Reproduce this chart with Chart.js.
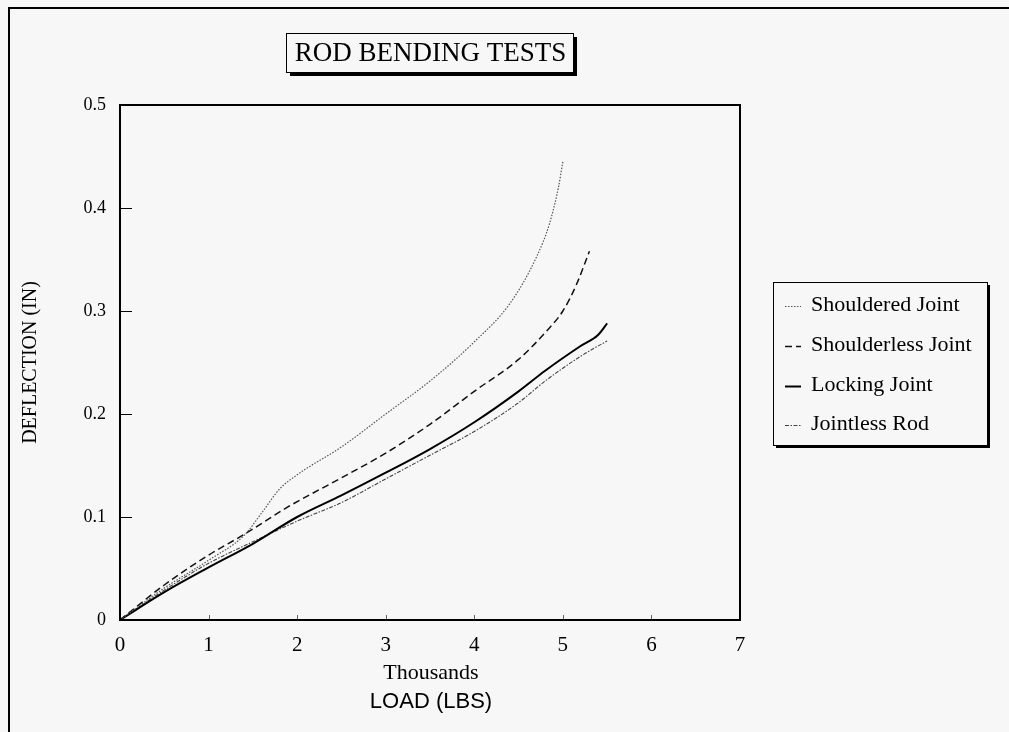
<!DOCTYPE html>
<html>
<head>
<meta charset="utf-8">
<script src="https://cdn.jsdelivr.net/npm/chart.js@4"></script>
<style>
html,body{margin:0;padding:0;background:#f7f7f7;}
#wrap{position:relative;width:1009px;height:732px;}
</style>
</head>
<body>
<div id="wrap"><canvas id="c" width="1009" height="732"></canvas></div>
<script>
// ---- data (load in thousands of lbs, deflection in inches) ----
const xTicks = [0, 1, 2, 3, 4, 5, 6, 7];
const yTicks = [0, 0.1, 0.2, 0.3, 0.4, 0.5];
const seriesNames = ["Shouldered Joint", "Shoulderless Joint", "Locking Joint", "Jointless Rod"];

const shoulderedLoad = [0, 0.5, 1.0, 1.4, 1.6, 1.8, 2.0, 2.5, 3.0, 3.5, 4.0, 4.4, 4.7, 4.85, 4.95, 5.0];
const shoulderedDefl = [0, 0.031, 0.058, 0.082, 0.104, 0.127, 0.141, 0.168, 0.200, 0.232, 0.270, 0.307, 0.352, 0.385, 0.420, 0.445];

const shoulderlessLoad = [0, 0.5, 1.0, 1.4, 1.9, 2.5, 3.0, 3.5, 4.0, 4.5, 4.8, 5.0, 5.15, 5.3];
const shoulderlessDefl = [0, 0.034, 0.063, 0.083, 0.110, 0.138, 0.162, 0.190, 0.222, 0.253, 0.279, 0.300, 0.325, 0.358];

const lockingLoad = [0, 0.5, 1.0, 1.5, 2.0, 2.5, 3.0, 3.5, 4.0, 4.5, 4.8, 5.2, 5.4, 5.5];
const lockingDefl = [0, 0.027, 0.051, 0.074, 0.100, 0.121, 0.143, 0.166, 0.192, 0.222, 0.242, 0.266, 0.277, 0.288];

const jointlessLoad = [0, 0.5, 1.0, 1.5, 2.0, 2.5, 3.0, 3.5, 4.0, 4.5, 4.8, 5.2, 5.5];
const jointlessDefl = [0, 0.029, 0.055, 0.076, 0.096, 0.114, 0.137, 0.160, 0.183, 0.211, 0.232, 0.256, 0.271];

function pts(xs, ys){ return xs.map((x,i)=>({x:x, y:ys[i]})); }

const styles = [
  {color:'#555', width:1.2, dash:[1.5,1.5]},
  {color:'#111', width:1.5, dash:[7,4]},
  {color:'#000', width:2, dash:[]},
  {color:'#444', width:1.1, dash:[4,1.5,1.5,1.5]}
];
const seriesData = [
  pts(shoulderedLoad, shoulderedDefl),
  pts(shoulderlessLoad, shoulderlessDefl),
  pts(lockingLoad, lockingDefl),
  pts(jointlessLoad, jointlessDefl)
];

const SERIF = '"Liberation Serif","Times New Roman",serif';
const SANS = '"Liberation Sans",Arial,sans-serif';

const decorPlugin = {
  id:'decor',
  beforeDraw(chart){
    const ctx = chart.ctx;
    ctx.save();
    ctx.fillStyle = '#f7f7f7';
    ctx.fillRect(0,0,chart.width,chart.height);
    // outer frame (top & left)
    ctx.strokeStyle = '#000';
    ctx.lineWidth = 2;
    ctx.beginPath();
    ctx.moveTo(9, 732); ctx.lineTo(9, 8); ctx.lineTo(1009, 8);
    ctx.stroke();
    ctx.restore();
  },
  afterDraw(chart){
    const ctx = chart.ctx;
    const a = chart.chartArea;
    const xs = chart.scales.x, ys = chart.scales.y;
    ctx.save();
    // plot frame
    ctx.strokeStyle = '#000';
    ctx.lineWidth = 2;
    ctx.strokeRect(a.left, a.top, a.right - a.left, a.bottom - a.top);
    // inward y ticks
    ctx.lineWidth = 1;
    yTicks.forEach(v => {
      if (v === 0 || v === 0.5) return;
      const y = Math.round(ys.getPixelForValue(v)) + 0.5;
      ctx.beginPath(); ctx.moveTo(a.left, y); ctx.lineTo(a.left + 12, y); ctx.stroke();
    });
    // small inward x ticks
    ctx.strokeStyle = '#666';
    xTicks.forEach(v => {
      if (v === 0 || v === 7) return;
      const x = Math.round(xs.getPixelForValue(v)) + 0.5;
      ctx.beginPath(); ctx.moveTo(x, a.bottom - 1); ctx.lineTo(x, a.bottom - 5); ctx.stroke();
    });
    // x axis titles
    ctx.fillStyle = '#000';
    ctx.textAlign = 'center';
    ctx.textBaseline = 'middle';
    const cx = (a.left + a.right) / 2 + 1;
    ctx.font = '22px ' + SERIF;
    ctx.fillText('Thousands', cx, 673);
    ctx.font = '22px ' + SANS;
    ctx.fillText('LOAD (LBS)', cx, 702);

    // title box with shadow
    const tb = {l:286, t:33, r:573, b:72};
    ctx.fillStyle = '#000';
    ctx.fillRect(tb.l + 4, tb.t + 4, tb.r - tb.l, tb.b - tb.t);
    ctx.fillStyle = '#f7f7f7';
    ctx.fillRect(tb.l, tb.t, tb.r - tb.l, tb.b - tb.t);
    ctx.lineWidth = 1;
    ctx.strokeStyle = '#000';
    ctx.strokeRect(tb.l + 0.5, tb.t + 0.5, tb.r - tb.l, tb.b - tb.t);
    ctx.fillStyle = '#000';
    ctx.font = '27px ' + SERIF;
    ctx.fillText('ROD BENDING TESTS', (tb.l + tb.r) / 2 + 1, 54);

    // legend box with shadow
    const lb = {l:773, t:282, r:987, b:445};
    ctx.fillStyle = '#000';
    ctx.fillRect(lb.l + 3, lb.t + 3, lb.r - lb.l, lb.b - lb.t);
    ctx.fillStyle = '#f7f7f7';
    ctx.fillRect(lb.l, lb.t, lb.r - lb.l, lb.b - lb.t);
    ctx.strokeRect(lb.l + 0.5, lb.t + 0.5, lb.r - lb.l, lb.b - lb.t);
    const rowsY = [305, 345, 385, 424];
    chart.data.datasets.forEach((ds, i) => {
      const y = rowsY[i];
      ctx.save();
      ctx.strokeStyle = ds.borderColor;
      ctx.lineWidth = ds.borderWidth;
      ctx.setLineDash(ds.borderDash || []);
      ctx.beginPath(); ctx.moveTo(785, y + 1.5); ctx.lineTo(801, y + 1.5); ctx.stroke();
      ctx.restore();
      ctx.fillStyle = '#000';
      ctx.textAlign = 'left';
      ctx.font = '22px ' + SERIF;
      ctx.fillText(ds.label, 811, y);
    });
    ctx.restore();
  }
};

new Chart(document.getElementById('c'), {
  type: 'scatter',
  data: {
    datasets: seriesNames.map((name, i) => ({
      label: name,
      data: seriesData[i],
      showLine: true,
      borderColor: styles[i].color,
      borderWidth: styles[i].width,
      borderDash: styles[i].dash,
      pointRadius: 0,
      cubicInterpolationMode: 'monotone',
      fill: false
    }))
  },
  options: {
    responsive: false,
    animation: false,
    layout: {padding: {left: 0, top: 105, right: 269, bottom: 0}},
    plugins: {legend: {display: false}, tooltip: {enabled: false}, title: {display: false}},
    scales: {
      x: {
        type: 'linear', min: 0, max: 7,
        afterBuildTicks: s => { s.ticks = xTicks.map(v => ({value: v})); },
        afterFit: s => { s.height = 112; },
        grid: {display: false, drawTicks: false},
        border: {display: false},
        ticks: {color: '#000', font: {family: SERIF, size: 21}, padding: 13,
                callback: v => String(v)}
      },
      y: {
        type: 'linear', min: 0, max: 0.5,
        afterBuildTicks: s => { s.ticks = yTicks.map(v => ({value: v})); },
        afterFit: s => { s.width = 120; },
        grid: {display: false, drawTicks: false},
        border: {display: false},
        ticks: {color: '#000', font: {family: SERIF, size: 18}, padding: 14,
                callback: v => v === 0 ? '0' : Number(v).toFixed(1)},
        title: {display: true, text: 'DEFLECTION (IN)', color: '#000',
                font: {family: SERIF, size: 20}, padding: {top: 19, bottom: 0}}
      }
    }
  },
  plugins: [decorPlugin]
});
</script>
</body>
</html>
